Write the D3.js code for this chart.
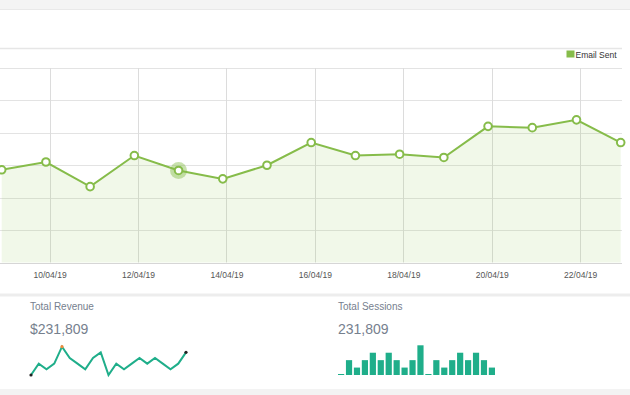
<!DOCTYPE html>
<html>
<head>
<meta charset="utf-8">
<script src="https://cdn.jsdelivr.net/npm/d3@7"></script>
<style>
  body { margin: 0; background: #fff; }
  svg { display: block; font-family: "Liberation Sans", Arial, sans-serif; }
</style>
</head>
<body>
<div id="chart"></div>
<script>
// main chart: emails sent per day
var days = ["2019-04-09","2019-04-10","2019-04-11","2019-04-12","2019-04-13","2019-04-14","2019-04-15",
            "2019-04-16","2019-04-17","2019-04-18","2019-04-19","2019-04-20","2019-04-21","2019-04-22","2019-04-23"];
var emailSent = [143, 155, 117, 165, 142, 129, 150, 185, 165, 167, 162, 210, 208, 220, 185];
var tickDays = ["2019-04-10","2019-04-12","2019-04-14","2019-04-16","2019-04-18","2019-04-20","2019-04-22"];
var yTicks = [0, 50, 100, 150, 200, 250, 300];
var highlightIndex = 4;

// sparklines in the cards
var revenueSpark = [0, 2, 1, 2, 5, 3, 2, 1, 3, 4, 0, 2, 1, 2, 3, 2, 3, 2, 1, 2, 4];
var sessionsSpark = [0, 2, 1, 2, 3, 2, 3, 2, 1, 2, 4, 0, 2, 1, 2, 3, 2, 3, 2, 1];
var cards = [
  { title: "Total Revenue", value: "$231,809" },
  { title: "Total Sessions", value: "231,809" }
];

var W = 630, H = 395;
var green = "#86bc4a";
var teal = "#1fae8a";
var cardText = "#76808e";

var parse = d3.utcParse("%Y-%m-%d");
var fmt = d3.utcFormat("%d/%m/%y");

var svg = d3.select("#chart").append("svg")
    .attr("width", W)
    .attr("height", H);

// page bands
svg.append("rect").attr("x", 0).attr("y", 0).attr("width", W).attr("height", 9).attr("fill", "#f4f4f4");
svg.append("line").attr("x1", 0).attr("x2", W).attr("y1", 9.5).attr("y2", 9.5).attr("stroke", "#e9e9e9");
svg.append("line").attr("x1", 0).attr("x2", 622).attr("y1", 48.5).attr("y2", 48.5)
    .attr("stroke", "#e6e6e6").attr("stroke-width", 1.5);

// legend
svg.append("rect").attr("x", 566.5).attr("y", 50.5).attr("width", 8).attr("height", 7).attr("fill", green);
svg.append("text").attr("x", 575.5).attr("y", 57.5)
    .style("font-size", "8.5px").attr("fill", "#333").text("Email Sent");

// scales
var x = d3.scaleUtc()
    .domain([parse(days[0]), parse(days[days.length - 1])])
    .range([1.7, 620.7]);
var y = d3.scaleLinear()
    .domain([0, 300])
    .range([262.5, 68]);
var plotLeft = 0, plotRight = 622;

// ticks are drawn in local time, ~2h after the UTC points
var tickDates = tickDays.map(function(d) { return d3.utcHour.offset(parse(d), 2); });

var chart = svg.append("g");

chart.selectAll(".hgrid")
    .data(yTicks)
    .enter().append("line")
    .attr("class", "hgrid")
    .attr("x1", plotLeft).attr("x2", plotRight)
    .attr("y1", function(d) { return Math.round(y(d)) + 0.5; })
    .attr("y2", function(d) { return Math.round(y(d)) + 0.5; })
    .attr("stroke", function(d) { return d === 0 ? "#d6d6d6" : "#e3e3e3"; });

chart.selectAll(".vgrid")
    .data(tickDates)
    .enter().append("line")
    .attr("class", "vgrid")
    .attr("x1", function(d) { return Math.round(x(d)) + 0.5; })
    .attr("x2", function(d) { return Math.round(x(d)) + 0.5; })
    .attr("y1", y(300)).attr("y2", y(0))
    .attr("stroke", "#dcdcdc");

var pts = days.map(function(d, i) { return { date: parse(d), value: emailSent[i] }; });

var area = d3.area()
    .x(function(d) { return x(d.date); })
    .y0(y(0))
    .y1(function(d) { return y(d.value); });
var line = d3.line()
    .x(function(d) { return x(d.date); })
    .y(function(d) { return y(d.value); });

chart.append("path").datum(pts)
    .attr("d", area)
    .attr("fill", "rgba(139,195,74,0.12)");
chart.append("path").datum(pts)
    .attr("d", line)
    .attr("fill", "none")
    .attr("stroke", green)
    .attr("stroke-width", 2);

// hover halo
chart.append("circle")
    .attr("cx", x(pts[highlightIndex].date))
    .attr("cy", y(pts[highlightIndex].value))
    .attr("r", 8.5)
    .attr("fill", "rgba(134,188,74,0.45)");

chart.selectAll(".pt")
    .data(pts)
    .enter().append("circle")
    .attr("class", "pt")
    .attr("cx", function(d) { return x(d.date); })
    .attr("cy", function(d) { return y(d.value); })
    .attr("r", 3.8)
    .attr("fill", "#fff")
    .attr("stroke", green)
    .attr("stroke-width", 2);

// x axis labels
var xAxis = d3.axisBottom(x)
    .tickValues(tickDates)
    .tickFormat(fmt)
    .tickSize(0)
    .tickPadding(0);
var xg = svg.append("g")
    .attr("transform", "translate(0,272)")
    .call(xAxis);
xg.select(".domain").remove();
xg.selectAll("text")
    .attr("dy", "0.71em")
    .style("font-size", "8.5px")
    .style("font-family", "'Liberation Sans', Arial, sans-serif")
    .attr("fill", "#555");

// card area bands
svg.append("rect").attr("x", 0).attr("y", 293.5).attr("width", W).attr("height", 3).attr("fill", "#ededed");
svg.append("rect").attr("x", 0).attr("y", 389).attr("width", W).attr("height", 6).attr("fill", "#f3f3f3");

var cardX = [30, 338];
cards.forEach(function(c, i) {
  svg.append("text").attr("x", cardX[i]).attr("y", 310)
      .style("font-size", "10px").attr("fill", cardText).text(c.title);
  svg.append("text").attr("x", cardX[i]).attr("y", 334)
      .style("font-size", "14px").attr("fill", cardText).text(c.value);
});

// revenue sparkline
var sx = d3.scaleLinear().domain([0, revenueSpark.length - 1]).range([31, 186]);
var sy = d3.scaleLinear().domain([0, d3.max(revenueSpark)]).range([375, 346.7]);
svg.append("path").datum(revenueSpark)
    .attr("d", d3.line().x(function(d, i) { return sx(i); }).y(function(d) { return sy(d); }))
    .attr("fill", "none")
    .attr("stroke", teal)
    .attr("stroke-width", 2);
var maxI = revenueSpark.indexOf(d3.max(revenueSpark));
[[0, "#222"], [revenueSpark.length - 1, "#222"], [maxI, "#f08a3c"]].forEach(function(s) {
  svg.append("circle").attr("cx", sx(s[0])).attr("cy", sy(revenueSpark[s[0]]))
      .attr("r", 1.6).attr("fill", s[1]);
});

// sessions bar sparkline
var bx = d3.scaleBand().domain(d3.range(sessionsSpark.length)).range([338, 495]).paddingInner(0.22);
var by = d3.scaleLinear().domain([0, d3.max(sessionsSpark)]).range([375, 345.3]);
svg.selectAll(".sbar")
    .data(sessionsSpark)
    .enter().append("rect")
    .attr("class", "sbar")
    .attr("x", function(d, i) { return bx(i); })
    .attr("width", bx.bandwidth())
    .attr("y", function(d) { return Math.min(by(d), 374); })
    .attr("height", function(d) { return Math.max(375 - by(d), 1); })
    .attr("fill", teal);
</script>
</body>
</html>
